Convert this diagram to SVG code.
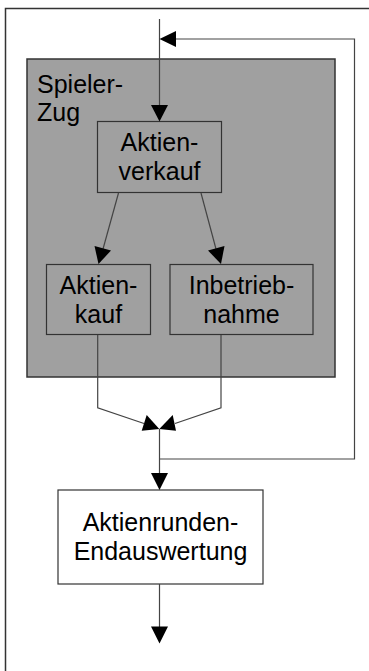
<svg xmlns="http://www.w3.org/2000/svg" width="369" height="671" viewBox="0 0 369 671">
<style>
.lbl{font-family:"Liberation Sans",Arial,sans-serif;font-size:25px;fill:#000}
.box{stroke:#333;stroke-width:1.2}
.ln{fill:none;stroke:#444;stroke-width:1.2}
.ah{fill:#000}
</style>
<rect width="369" height="671" fill="#fff"/>
<rect x="5.5" y="8.5" width="420" height="700" fill="none" stroke="#333" stroke-width="1.5"/>
<g id="spielerzug">
<rect x="27" y="59" width="308" height="318" fill="#a0a0a0" stroke="#333" stroke-width="1.5"/>
<text class="lbl" x="37" y="93">Spieler-</text>
<text class="lbl" x="37" y="121">Zug</text>
</g>
<g id="aktienverkauf">
<rect class="box" x="97.5" y="121.5" width="124" height="71" fill="#a0a0a0"/>
<text class="lbl" text-anchor="middle" x="159.5" y="151">Aktien-</text>
<text class="lbl" text-anchor="middle" x="159.5" y="179.5">verkauf</text>
</g>
<g id="aktienkauf">
<rect class="box" x="46.5" y="264.5" width="104" height="70" fill="#a0a0a0"/>
<text class="lbl" text-anchor="middle" x="98.5" y="294">Aktien-</text>
<text class="lbl" text-anchor="middle" x="98.5" y="322.5">kauf</text>
</g>
<g id="inbetriebnahme">
<rect class="box" x="170" y="264.5" width="143" height="70" fill="#a0a0a0"/>
<text class="lbl" text-anchor="middle" x="241.5" y="294">Inbetrieb-</text>
<text class="lbl" text-anchor="middle" x="241.5" y="322.5">nahme</text>
</g>
<g id="endauswertung">
<rect class="box" x="58" y="490" width="205" height="94" fill="#fff"/>
<text class="lbl" text-anchor="middle" x="160.5" y="531">Aktienrunden-</text>
<text class="lbl" text-anchor="middle" x="160.5" y="560">Endauswertung</text>
</g>
<g id="connectors">
<path class="ln" d="M159.5 19V106"/>
<polygon class="ah" points="151,105 168,105 159.5,121.5"/>
<path class="ln" d="M159.5 429V473M159.5 459H354.5V39H175"/>
<polygon class="ah" points="159.5,39 176,31 176,47"/>
<polygon class="ah" points="151,473 168,473 159.5,490"/>
<path class="ln" d="M118.5 193L103 249"/>
<polygon class="ah" points="98.5,264 94.5,246 111,250.5"/>
<path class="ln" d="M201 193L216 249"/>
<polygon class="ah" points="221,264 208,250.5 224.5,246"/>
<path class="ln" d="M97.7 335V407.7L144 423.5"/>
<polygon class="ah" points="159.3,429 141.7,430.7 146.7,415"/>
<path class="ln" d="M221 335V407.7L175 423.5"/>
<polygon class="ah" points="159.3,429 172.7,415 176,430.7"/>
<path class="ln" d="M159.5 584V627"/>
<polygon class="ah" points="151,626.5 168,626.5 159.5,643.5"/>
</g>
</svg>
